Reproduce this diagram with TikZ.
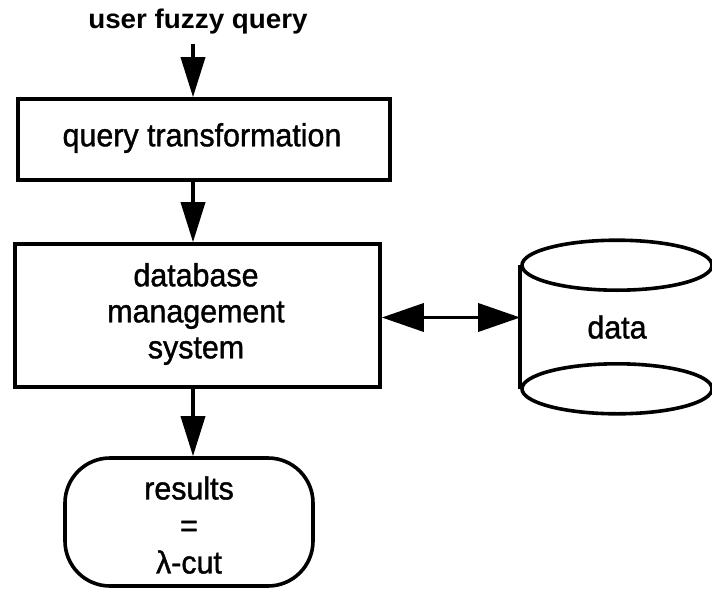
\documentclass[tikz,border=0pt]{standalone}
\usepackage{fontspec}
\setmainfont{Liberation Sans}
\newfontfamily\labelfont{Liberation Sans}[FakeBold=1.2, FakeStretch=0.95]
\newfontfamily\headfont{Liberation Sans}[FakeStretch=1.03]
\usetikzlibrary{arrows.meta}

\begin{document}
\begin{tikzpicture}[x=1pt,y=-1pt,
    line width=3.6pt,
    boxtext/.style={font=\labelfont\fontsize{32}{36}\selectfont, align=center},
    procbox/.style={draw, rectangle, inner sep=0pt},
    flow/.style={-{Triangle[length=40pt,width=24pt]}},
    link/.style={{Triangle[length=42pt,width=28pt]}-{Triangle[length=42pt,width=28pt]}}]
  \useasboundingbox (0,0) rectangle (712,589);

  % common x position of the vertical flow
  \coordinate (ax) at (193,0);

  % input label
  \node[font=\headfont\bfseries\fontsize{27}{30}\selectfont, inner sep=2pt] (in) at (198,22) {user fuzzy query};

  % processing stages
  \node[procbox, minimum width=372pt, minimum height=81pt] (qt) at (204,139.5) {};
  \node[boxtext] at (202,138) {query transformation};

  \node[procbox, minimum width=365pt, minimum height=143pt] (dbms) at (197.5,315.5) {};
  \node[boxtext] at (196,314) {database\\management\\system};

  \node[procbox, rounded corners=45pt, minimum width=248pt, minimum height=128pt] (res) at (189,522) {};
  \node[boxtext, font=\labelfont\fontsize{32}{37}\selectfont] at (189,525) {results\\=\\λ-cut};

  % data store (cylinder)
  \node[minimum width=190pt, minimum height=120pt, inner sep=0pt, boxtext] (cyl) at (617,327) {data};
  \draw (cyl.north) ellipse [x radius=95pt, y radius=25pt];
  \draw (cyl.south) ellipse [x radius=95pt, y radius=25pt];
  \draw (cyl.north west) -- (cyl.south west);
  \draw (cyl.north east) -- (cyl.south east);

  % connectors
  \draw[flow] ([yshift=-6pt]in.south -| ax) -- (qt.north -| ax);
  \draw[flow] (qt.south -| ax) -- (dbms.north -| ax);
  \draw[flow] (dbms.south -| ax) -- (res.north -| ax);
  \draw[link] ([yshift=-2pt]dbms.east) -- ([yshift=-2pt]cyl.west |- dbms.east);
\end{tikzpicture}
\end{document}
